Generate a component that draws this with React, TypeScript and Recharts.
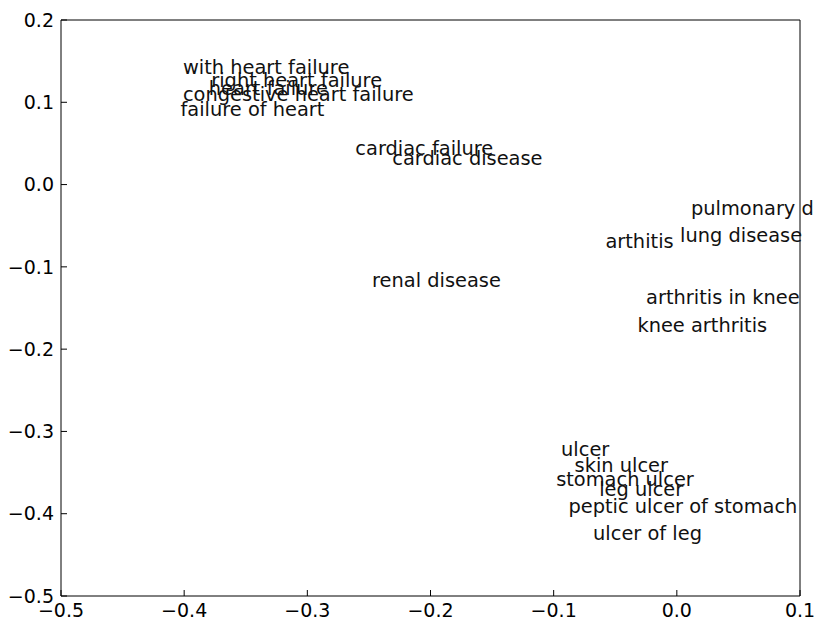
import React from 'react';
import { ScatterChart, Scatter, XAxis, YAxis } from 'recharts';

const labels = [
  'with heart failure',
  'right heart failure',
  'heart failure',
  'congestive heart failure',
  'failure of heart',
  'cardiac failure',
  'cardiac disease',
  'pulmonary disease',
  'lung disease',
  'arthitis',
  'arthritis in knee',
  'knee arthritis',
  'renal disease',
  'ulcer',
  'skin ulcer',
  'stomach ulcer',
  'leg ulcer',
  'peptic ulcer of stomach',
  'ulcer of leg',
];
const xValues = [-0.401, -0.378, -0.38, -0.401, -0.403, -0.261, -0.231, 0.0115, 0.0026, -0.058, -0.025, -0.032, -0.2475, -0.094, -0.083, -0.098, -0.063, -0.088, -0.068];
const yValues = [0.134, 0.119, 0.109, 0.102, 0.083, 0.036, 0.024, -0.037, -0.07, -0.077, -0.145, -0.1795, -0.124, -0.33, -0.349, -0.366, -0.379, -0.399, -0.432];

const xTicks = [-0.5, -0.4, -0.3, -0.2, -0.1, 0.0, 0.1];
const yTicks = [-0.5, -0.4, -0.3, -0.2, -0.1, 0.0, 0.1, 0.2];

const data = labels.map((label, i) => ({ label, x: xValues[i], y: yValues[i] }));

const fmt = (v: number) => {
  const r = Math.round(v * 10) / 10;
  if (r === 0) return '0.0';
  return (r < 0 ? '\u2212' : '') + Math.abs(r).toFixed(1);
};

const FONT = 'DejaVu Sans';
const tickStyle = { fill: '#000', fontSize: 19, fontFamily: FONT };
const lineStyle = { stroke: '#000', strokeWidth: 1 };

const LabelShape = (props: any) => {
  const { cx, cy, payload } = props;
  return (
    <text x={cx} y={cy} textAnchor="start" fill="#111" fontSize={19.4} fontFamily={FONT}>
      {payload.label}
    </text>
  );
};

export default function App() {
  return (
    <div style={{ position: 'absolute', left: 0, top: 0, background: '#fff' }}>
      <ScatterChart width={814} height={621} margin={{ top: 19, right: 13, bottom: 0, left: 0 }}>
        <XAxis
          xAxisId="b"
          dataKey="x"
          type="number"
          domain={[-0.5, 0.1]}
          ticks={xTicks}
          interval={0}
          height={25}
          tickSize={-6}
          tickMargin={14}
          tickFormatter={fmt}
          tick={tickStyle}
          axisLine={lineStyle}
          tickLine={lineStyle}
        />
        <XAxis
          xAxisId="t"
          orientation="top"
          type="number"
          domain={[-0.5, 0.1]}
          ticks={xTicks}
          interval={0}
          height={1}
          tickSize={-6}
          tick={false}
          axisLine={lineStyle}
          tickLine={lineStyle}
        />
        <YAxis
          yAxisId="l"
          dataKey="y"
          type="number"
          domain={[-0.5, 0.2]}
          ticks={yTicks}
          interval={0}
          width={61}
          tickSize={-6}
          tickMargin={13}
          tickFormatter={fmt}
          tick={tickStyle}
          axisLine={lineStyle}
          tickLine={lineStyle}
        />
        <YAxis
          yAxisId="r"
          orientation="right"
          type="number"
          domain={[-0.5, 0.2]}
          ticks={yTicks}
          interval={0}
          width={1}
          tickSize={-6}
          tick={false}
          axisLine={lineStyle}
          tickLine={lineStyle}
        />
        <Scatter
          xAxisId="b"
          yAxisId="l"
          data={data}
          shape={LabelShape}
          isAnimationActive={false}
        />
      </ScatterChart>
    </div>
  );
}
